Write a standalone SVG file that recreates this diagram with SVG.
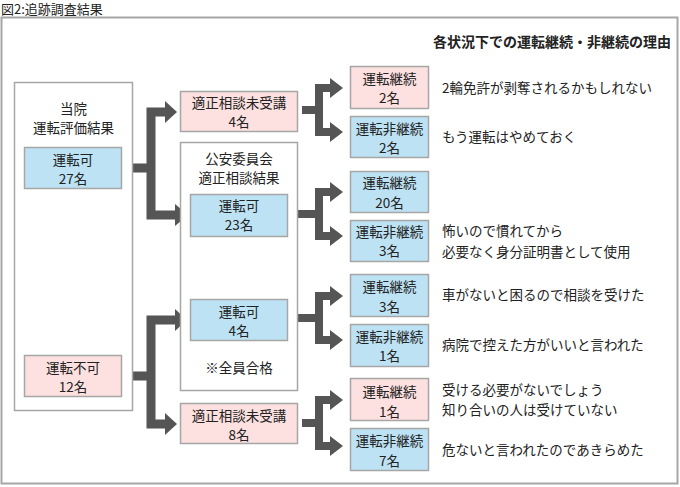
<svg xmlns="http://www.w3.org/2000/svg" width="680" height="487" viewBox="0 0 680 487">
<style>
text{font-family:"Noto Sans CJK JP","Noto Sans",sans-serif;font-size:13.5px;fill:#222}
.c{text-anchor:middle}
.box{stroke:#a6a6a6;stroke-width:1.5}
.w{fill:#fff}
.p{fill:#fde0e0}
.b{fill:#bde2f4}
.sh{fill:none;stroke:#555;stroke-linejoin:miter}
.hd{fill:#555}
</style>
<rect width="680" height="487" fill="#fff"/>
<text x="1" y="14" style="font-size:13px">図2:追跡調査結果</text>
<rect x="1.5" y="17.5" width="676" height="466" fill="#fff" stroke="#a6a6a6" stroke-width="2"/>
<text x="671" y="47" style="font-weight:bold;font-size:14px;text-anchor:end">各状況下での運転継続・非継続の理由</text>

<g id="connectors">
  <path class="sh" stroke-width="9" d="M125 168H151M165 112H151V215H176"/>
  <polygon class="hd" points="165,101 177,112 165,123"/>
  <polygon class="hd" points="175,204 188,215 175,226"/>
  <path class="sh" stroke-width="9" d="M125 376H151M176 320H151V424H166"/>
  <polygon class="hd" points="175,309 187,320 175,331"/>
  <polygon class="hd" points="165,413 177,424 165,435"/>
  <path class="sh" stroke-width="8" d="M302 110H319M331 88H319V132H331"/>
  <polygon class="hd" points="330,78 343,88 330,98"/>
  <polygon class="hd" points="330,122 343,132 330,142"/>
  <path class="sh" stroke-width="8" d="M292 214H319M331 192H319V236H331"/>
  <polygon class="hd" points="330,182 343,192 330,202"/>
  <polygon class="hd" points="330,226 343,236 330,246"/>
  <path class="sh" stroke-width="8" d="M292 318H319M331 296H319V340H331"/>
  <polygon class="hd" points="330,286 343,296 330,306"/>
  <polygon class="hd" points="330,330 343,340 330,350"/>
  <path class="sh" stroke-width="8" d="M302 423H319M331 400H319V446H331"/>
  <polygon class="hd" points="330,390 343,400 330,410"/>
  <polygon class="hd" points="330,436 343,446 330,456"/>
</g>

<g id="hospital">
  <rect class="box w" x="14.5" y="82.5" width="118" height="328"/>
  <text class="c" x="73.5" y="114">当院</text>
  <text class="c" x="73.5" y="133">運転評価結果</text>
</g>
<g id="ok27">
  <rect class="box b" x="24.5" y="147.5" width="97" height="41"/>
  <text class="c" x="73" y="165">運転可</text>
  <text class="c" x="73" y="184">27名</text>
</g>
<g id="ng12">
  <rect class="box p" x="24.5" y="355.5" width="97" height="41"/>
  <text class="c" x="73" y="373">運転不可</text>
  <text class="c" x="73" y="392">12名</text>
</g>

<g id="noexam4">
  <rect class="box p" x="180.5" y="91.5" width="117" height="40"/>
  <text class="c" x="239" y="108">適正相談未受講</text>
  <text class="c" x="239" y="127">4名</text>
</g>
<g id="commission">
  <rect class="box w" x="180.5" y="142.5" width="117" height="248"/>
  <text class="c" x="239" y="164">公安委員会</text>
  <text class="c" x="239" y="183">適正相談結果</text>
  <text class="c" x="239" y="373">※全員合格</text>
</g>
<g id="ok23">
  <rect class="box b" x="190.5" y="194.5" width="97" height="42"/>
  <text class="c" x="239" y="211">運転可</text>
  <text class="c" x="239" y="230">23名</text>
</g>
<g id="ok4">
  <rect class="box b" x="190.5" y="299.5" width="97" height="41"/>
  <text class="c" x="239" y="317">運転可</text>
  <text class="c" x="239" y="336">4名</text>
</g>
<g id="noexam8">
  <rect class="box p" x="180.5" y="403.5" width="117" height="40"/>
  <text class="c" x="239" y="421">適正相談未受講</text>
  <text class="c" x="239" y="440">8名</text>
</g>

<g id="cont2">
  <rect class="box p" x="350.5" y="66.5" width="78" height="42"/>
  <text class="c" x="389.5" y="84">運転継続</text>
  <text class="c" x="389.5" y="103">2名</text>
</g>
<g id="stop2">
  <rect class="box b" x="350.5" y="116.5" width="78" height="41"/>
  <text class="c" x="389.5" y="134">運転非継続</text>
  <text class="c" x="389.5" y="153">2名</text>
</g>
<g id="cont20">
  <rect class="box b" x="350.5" y="171.5" width="78" height="41"/>
  <text class="c" x="389.5" y="188">運転継続</text>
  <text class="c" x="389.5" y="208">20名</text>
</g>
<g id="stop3">
  <rect class="box b" x="350.5" y="220.5" width="78" height="41"/>
  <text class="c" x="389.5" y="237">運転非継続</text>
  <text class="c" x="389.5" y="256">3名</text>
</g>
<g id="cont3">
  <rect class="box b" x="350.5" y="274.5" width="78" height="42"/>
  <text class="c" x="389.5" y="292">運転継続</text>
  <text class="c" x="389.5" y="312">3名</text>
</g>
<g id="stop1">
  <rect class="box b" x="350.5" y="324.5" width="78" height="42"/>
  <text class="c" x="389.5" y="342">運転非継続</text>
  <text class="c" x="389.5" y="361">1名</text>
</g>
<g id="cont1">
  <rect class="box p" x="350.5" y="378.5" width="78" height="42"/>
  <text class="c" x="389.5" y="397">運転継続</text>
  <text class="c" x="389.5" y="417">1名</text>
</g>
<g id="stop7">
  <rect class="box b" x="350.5" y="428.5" width="78" height="42"/>
  <text class="c" x="389.5" y="446">運転非継続</text>
  <text class="c" x="389.5" y="466">7名</text>
</g>

<g id="reasons">
  <text x="442" y="93">2輪免許が剥奪されるかもしれない</text>
  <text x="442" y="142">もう運転はやめておく</text>
  <text x="442" y="236">怖いので慣れてから</text>
  <text x="442" y="257">必要なく身分証明書として使用</text>
  <text x="442" y="300">車がないと困るので相談を受けた</text>
  <text x="442" y="350">病院で控えた方がいいと言われた</text>
  <text x="442" y="395">受ける必要がないでしょう</text>
  <text x="442" y="415">知り合いの人は受けていない</text>
  <text x="442" y="455">危ないと言われたのであきらめた</text>
</g>
</svg>
